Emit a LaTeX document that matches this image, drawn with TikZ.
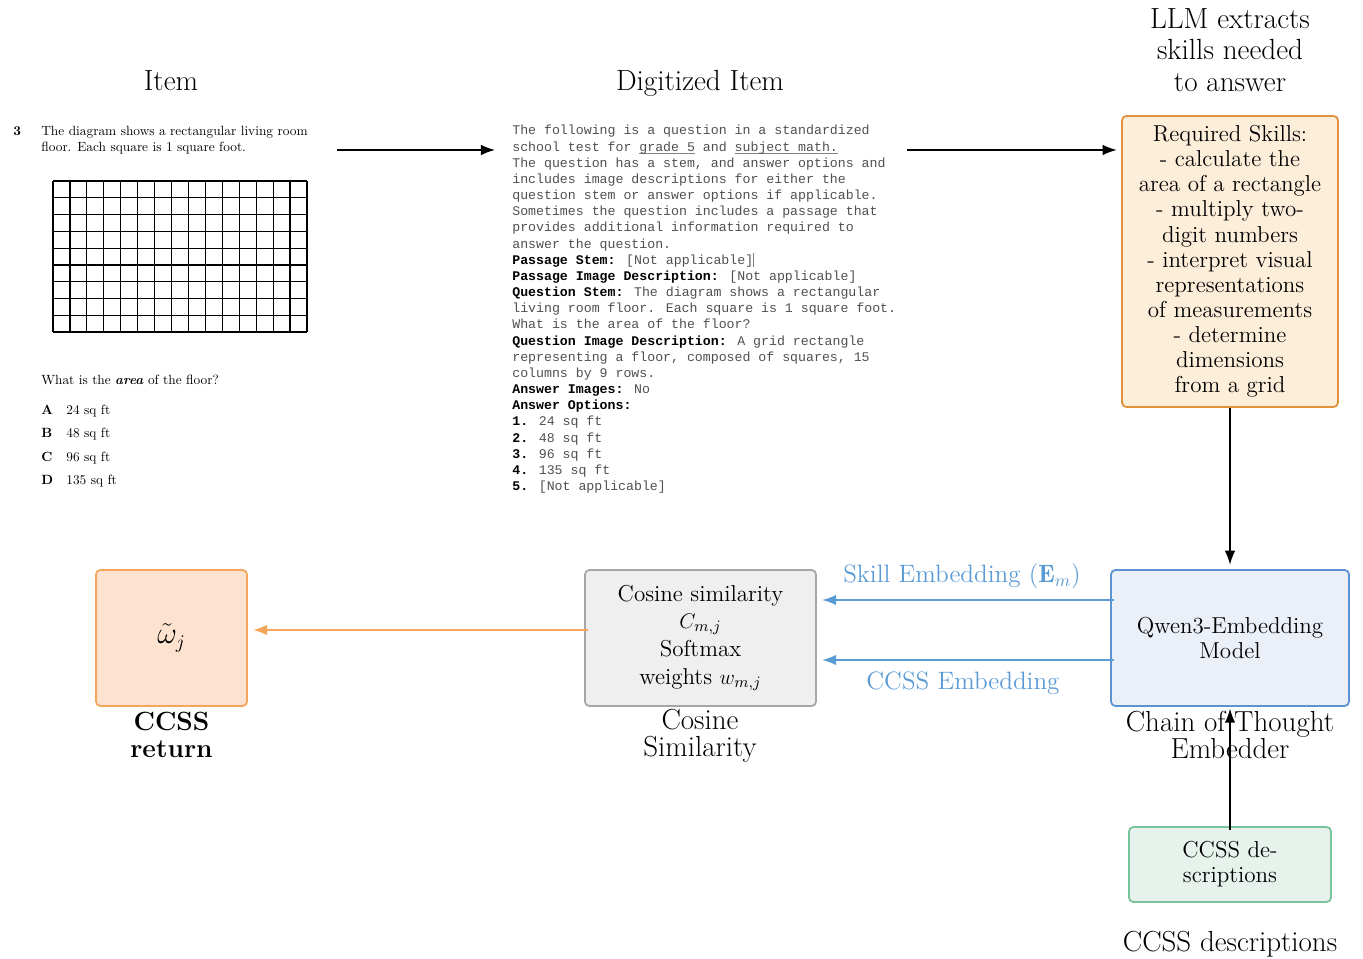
\documentclass[tikz,border=0pt]{standalone}
\usepackage{fontspec}
\usepackage{amsmath}
\usepackage{amssymb}
\usepackage{xcolor}
\usetikzlibrary{arrows.meta, positioning, calc}
\newfontfamily\codefont{Liberation Mono}
\newfontfamily\itemfont{lmroman10-regular.otf}[BoldFont=lmroman10-bold.otf, ItalicFont=lmroman10-italic.otf, BoldItalicFont=lmroman10-bolditalic.otf]
\definecolor{skillbg}{HTML}{FDEEDA}
\definecolor{skillline}{HTML}{E0913A}
\definecolor{embbg}{HTML}{EBF0F8}
\definecolor{embline}{HTML}{5B93D3}
\definecolor{ccssbg}{HTML}{E7F2EC}
\definecolor{ccssline}{HTML}{78C39A}
\definecolor{cosbg}{HTML}{EFEFEF}
\definecolor{cosline}{HTML}{A6A6A6}
\definecolor{retbg}{HTML}{FDE3CF}
\definecolor{retline}{HTML}{F5A55A}
\definecolor{embblue}{HTML}{5B9BD5}
\definecolor{codegray}{HTML}{505050}
\newcommand{\qfield}[1]{{\color{black}\bfseries #1}}
\newcommand{\uln}[1]{\setbox0\hbox{#1}\rlap{\color{gray}\rule[-1.3pt]{\wd0}{0.4pt}}\box0\relax}

\begin{document}
\begin{tikzpicture}[
    title/.style={font=\fontsize{16.6}{18.1}\selectfont, align=center},
    lbl/.style={font=\fontsize{16.5}{15.3}\selectfont, align=center},
    itm/.style={font=\itemfont\fontsize{7.6}{9}\selectfont, inner sep=0},
    code/.style={font=\codefont\fontsize{7.53}{9.2}\selectfont, text=codegray, align=left, inner sep=0},
    box/.style={draw, rounded corners=2.5pt, line width=1pt, align=center, font=\fontsize{13.1}{14.3}\selectfont},
    skillbox/.style={box, draw=skillline, fill=skillbg, minimum width=4.32cm, minimum height=5.82cm},
    embbox/.style={box, draw=embline, fill=embbg, minimum width=4.76cm, minimum height=2.72cm},
    ccssbox/.style={box, draw=ccssline, fill=ccssbg, minimum width=4.04cm, minimum height=1.5cm},
    cosbox/.style={box, draw=cosline, fill=cosbg, minimum width=4.62cm, minimum height=2.72cm},
    retbox/.style={box, draw=retline, fill=retbg, minimum width=3.02cm, minimum height=2.72cm, font=\fontsize{16}{18}\selectfont},
    embtxt/.style={font=\fontsize{14.3}{16}\selectfont, text=embblue},
    gridline/.style={line width=0.7pt, black},
    arr/.style={-{Latex[length=8pt,width=6pt]}, line width=0.8pt},
    bluearr/.style={arr, draw=embblue, shorten >=3pt, shorten <=-2pt},
    orangearr/.style={arr, draw=retline, shorten >=3pt, shorten <=-2pt}
]
\useasboundingbox (0,0) rectangle (27.26,-19.18);

% Titles
\node[title, anchor=base] (titem) at (3.42,-1.82) {Item};
\node[title, anchor=base] (tdig) at (14.0,-1.82) {Digitized Item};
\node[title] (tllm) at (24.6,-1.0) {LLM extracts\\skills needed\\to answer};

% Original item
\node[itm, anchor=base west] (num) at (0.26,-2.71) {\textbf{3}};
\node[itm, anchor=base west, align=left] (stem) at (0.82,-3.03) {The diagram shows a rectangular living room\\floor. Each square is 1 square foot.};
\foreach \i in {0,...,15}
    \draw[gridline] ({1.06+\i*0.3387},-3.62) -- ++(0,-3.02);
\foreach \j in {0,...,9}
    \draw[gridline] (1.06,{-3.62-\j*0.3356}) -- ++(5.08,0);
\node[itm, anchor=base west] (ques) at (0.82,-7.7) {What is the \textbf{\textit{area}} of the floor?};
\foreach \l/\v [count=\i from 0] in {A/24,B/48,C/96,D/135} {
    \node[itm, anchor=base west] (opt\l) at (0.82,{-8.3-0.46*\i}) {\textbf{\l}};
    \node[itm, anchor=base west] (val\l) at (1.32,{-8.3-0.46*\i}) {\v\ sq ft};
}

% Digitized item
\node[code, anchor=north west] (dig) at (10.24,-2.5) {%
The following is a question in a standardized\\
school test for \uln{grade 5} and \uln{subject math.}\\
The question has a stem, and answer options and\\
includes image descriptions for either the\\
question stem or answer options if applicable.\\
Sometimes the question includes a passage that\\
provides additional information required to\\
answer the question.\\
\qfield{Passage Stem:} [Not applicable]\textcolor{gray}{\rule[-1.5pt]{0.4pt}{8pt}}\\
\qfield{Passage Image Description:} [Not applicable]\\
\qfield{Question Stem:} The diagram shows a rectangular\\
living room floor. Each square is 1 square foot.\\
What is the area of the floor?\\
\qfield{Question Image Description:} A grid rectangle\\
representing a floor, composed of squares, 15\\
columns by 9 rows.\\
\qfield{Answer Images:} No\\
\qfield{Answer Options:}\\
\qfield{1.} 24 sq ft\\
\qfield{2.} 48 sq ft\\
\qfield{3.} 96 sq ft\\
\qfield{4.} 135 sq ft\\
\qfield{5.} [Not applicable]};

% Pipeline boxes
\node[skillbox] (skills) at (24.6,-5.23) {Required Skills:\\- calculate the\\area of a rectangle\\- multiply two-\\digit numbers\\- interpret visual\\representations\\of measurements\\- determine\\dimensions\\from a grid};
\node[embbox] (qwen) at (24.6,-12.76) {Qwen3-Embedding\\Model};
\node[ccssbox] (ccss) at (24.6,-17.29) {CCSS de-\\scriptions};
\node[cosbox] (cos) at (14.01,-12.76) {Cosine similarity\\[1pt]$C_{m,j}$\\[2pt]Softmax\\[1.5pt]weights $w_{m,j}$};
\node[retbox] (ret) at (3.43,-12.76) {$\tilde{\omega}_j$};

% Labels under boxes
\node[lbl, font=\fontsize{15}{15.3}\selectfont\bfseries] (retlbl) at (3.43,-14.69) {CCSS\\return};
\node[lbl] (coslbl) at (14.0,-14.71) {Cosine\\Similarity};
\node[lbl] (qwenlbl) at (24.6,-14.69) {Chain of Thought\\Embedder};
\node[lbl] (ccsslbl) at (24.6,-18.88) {CCSS descriptions};

% Connectors
\coordinate (r1) at (6.74,-3.0);
\draw[arr] (r1) -- ([xshift=-0.34cm]dig.west |- r1);
\draw[arr, shorten >=2.5pt] ([xshift=0.2cm]dig.east |- r1) -- (skills.west |- r1);
\draw[arr, shorten >=2.5pt] (skills) -- (qwen);
\draw[arr, shorten >=1pt, shorten <=-2pt] (ccss) -- (qwen);
\draw[bluearr] ([yshift=0.76cm]qwen.west) -- ([yshift=0.76cm]cos.east);
\draw[bluearr] ([yshift=-0.44cm]qwen.west) -- ([yshift=-0.44cm]cos.east);
\draw[orangearr] ([yshift=0.16cm]cos.west) -- ([yshift=0.16cm]ret.east);
\node[embtxt] (skemb) at (19.24,-11.52) {Skill Embedding ($\mathbf{E}_m$)};
\node[embtxt] (ccemb) at (19.26,-13.66) {CCSS Embedding};
\end{tikzpicture}
\end{document}
